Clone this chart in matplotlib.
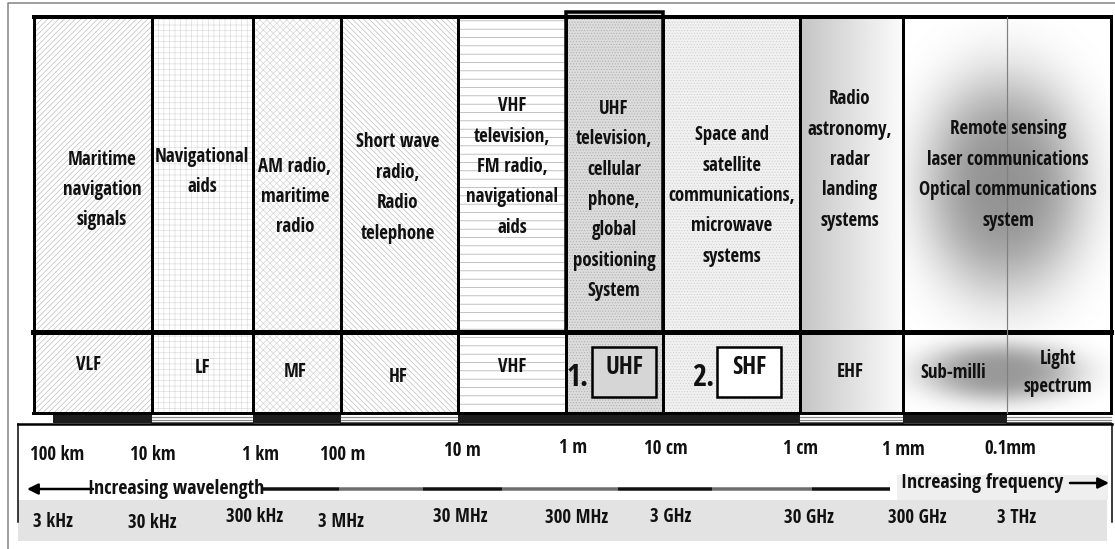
import os
import numpy as np
import matplotlib
matplotlib.use("Agg")
import matplotlib.pyplot as plt
from matplotlib.patches import Rectangle
from matplotlib import font_manager as fm
from matplotlib.textpath import TextPath

# ------------------------------------------------------------------ data
applications = [
    "Maritime\nnavigation\nsignals",
    "Navigational\naids",
    "AM radio,\nmaritime\nradio",
    "Short wave\nradio,\nRadio\ntelephone",
    "VHF\ntelevision,\nFM radio,\nnavigational\naids",
    "UHF\ntelevision,\ncellular\nphone,\nglobal\npositioning\nSystem",
    "Space and\nsatellite\ncommunications,\nmicrowave\nsystems",
    "Radio\nastronomy,\nradar\nlanding\nsystems",
    "Remote sensing\nlaser communications\nOptical communications\nsystem",
]
bands = ["VLF", "LF", "MF", "HF", "VHF", "UHF", "SHF", "EHF", "Sub-milli",
         "Light\nspectrum"]
band_prefix = ["", "", "", "", "", "1.", "2.", "", "", ""]
wavelengths = ["100 km", "10 km", "1 km", "100 m", "10 m", "1 m", "10 cm",
               "1 cm", "1 mm", "0.1mm"]
frequencies = ["3 kHz", "30 kHz", "300 kHz", "3 MHz", "30 MHz", "300 MHz",
               "3 GHz", "30 GHz", "300 GHz", "3 THz"]
left_note = "Increasing wavelength"
right_note = "Increasing frequency"

# ------------------------------------------------------------------ layout (pixels)
W, H = 1115, 549
col_edges = [34, 152, 253, 341, 458, 566, 663, 800, 903, 1007, 1111]
app_x = [102, 202, 295, 398, 512, 614, 732, 850, 1008]
app_y = [190, 172, 197, 188, 167, 200, 196, 160, 175]
band_x = [88, 202, 295, 398, 512, 624, 749, 850, 953, 1058]
band_y = [365, 368, 372, 377, 367, 368, 368, 372, 373, 373]
wl_x = [57, 153, 260, 343, 462, 573, 666, 800, 903, 1010]
wl_y = [455, 455, 455, 455, 451, 448, 449, 449, 450, 449]
fr_x = [53, 152, 255, 341, 460, 577, 671, 809, 917, 1017]
fr_y = [522, 523, 517, 522, 517, 518, 517, 518, 518, 518]
TOP, SPLIT, LOW_BOT = 17, 332, 413


# ------------------------------------------------------------------ font (narrow bold)
def font_metrics(fp):
    w = TextPath((0, 0), "Navigational", prop=fp, size=100).get_extents().width
    h = TextPath((0, 0), "H", prop=fp, size=100).get_extents().height
    return w, h


def pick_font(target=0.168):
    fams = ("liberationsans", "arialnarrow", "arialn", "roboto", "notosans-",
            "opensans", "dejavusans", "lato", "inter")
    best, best_d = None, 1e9
    seen = set()
    for f in fm.fontManager.ttflist:
        base = os.path.basename(f.fname).lower().replace(" ", "").replace("_", "")
        if base in seen:
            continue
        seen.add(base)
        if not base.startswith(fams):
            continue
        if "bold" not in base or "semibold" in base or "extrabold" in base:
            continue
        if any(k in base for k in ("italic", "oblique", "mono", "display", "ui")):
            continue
        try:
            fp = fm.FontProperties(fname=f.fname)
            w, h = font_metrics(fp)
        except Exception:
            continue
        if w <= 0:
            continue
        d = abs(h / w - target)
        if d < best_d:
            best, best_d = fp, d
    if best is None:
        best = fm.FontProperties(family="DejaVu Sans", weight="bold")
    return best


FP = pick_font()
_w, _h = font_metrics(FP)
_s_w = 100 * 92.0 / _w
_s_h = 100 * 15.0 / _h
FS = min(_s_w, 0.5 * (_s_w + _s_h)) * 72 / 100  # points
# line step in pixels for a given linespacing factor
_lp = TextPath((0, 0), "lp", prop=FP, size=FS * 100 / 72).get_extents().height
LS_APP = 32.0 / _lp
LS_BAND = 30.0 / _lp

plt.rcParams["hatch.linewidth"] = 0.45

fig = plt.figure(figsize=(W / 100, H / 100), dpi=100)
ax = fig.add_axes([0, 0, 1, 1])
ax.set_xlim(0, W)
ax.set_ylim(H, 0)
ax.axis("off")


def px(p):  # pixels -> points
    return p * 72 / 100


def txt(x, y, s, size=None, ls=None, **kw):
    fp = FP.copy()
    fp.set_size(size if size else FS)
    ax.text(x, y, s, ha="center", va="center", fontproperties=fp,
            color="#111111", linespacing=ls if ls else LS_APP, zorder=6, **kw)


# outer frame
ax.plot([8, 8, W], [H, 3, 3], color="#808080", lw=px(1.5), zorder=2,
        solid_capstyle="butt")

# ------------------------------------------------------------------ column fills
styles = [
    dict(fc="white", hatch="//////", hc="#b8b8b8"),
    dict(fc="white", hatch="+++", hc="#dadada"),
    dict(fc="white", hatch="xxxxx", hc="#d2d2d2"),
    dict(fc="white", hatch="\\\\\\\\\\\\", hc="#b8b8b8"),
    dict(fc="white", hatch="--", hc="#a0a0a0"),
    dict(fc="#dcdcdc", hatch="......", hc="#b0b0b0"),
    dict(fc="#f1f1f1", hatch="......", hc="#cfcfcf"),
]
for i, st in enumerate(styles):
    x0, x1 = col_edges[i], col_edges[i + 1]
    for y0, y1 in [(TOP, SPLIT), (SPLIT, LOW_BOT)]:
        ax.add_patch(Rectangle((x0, y0), x1 - x0, y1 - y0, facecolor=st["fc"],
                               edgecolor=st["hc"], lw=0, hatch=st["hatch"], zorder=1))
ax.add_patch(Rectangle((566, 12), 97, TOP - 12, facecolor="#dcdcdc", lw=0, zorder=1))

# EHF gradient
grad = np.linspace(0.72, 0.98, 200) ** 0.8
grad = np.tile(grad, (2, 1))
for y0, y1 in [(TOP, SPLIT), (SPLIT, LOW_BOT)]:
    ax.imshow(grad, cmap="gray", vmin=0, vmax=1, extent=(800, 903, y1, y0),
              aspect="auto", interpolation="bilinear", zorder=1)


# soft grey blobs (remote sensing / sub-milli)
def blob(x0, x1, y0, y1, cx, cy, sx, sy, depth, p=1.5):
    xs = np.linspace(x0, x1, 300)
    ys = np.linspace(y0, y1, 300)
    X, Y = np.meshgrid(xs, ys)
    r2 = ((X - cx) / sx) ** 2 + ((Y - cy) / sy) ** 2
    g = 1 - depth * np.exp(-r2 ** p)
    ax.imshow(g, cmap="gray", vmin=0, vmax=1, extent=(x0, x1, y1, y0),
              aspect="auto", interpolation="bilinear", zorder=1)


blob(903, 1111, TOP, SPLIT, 1004, 185, 82, 110, 0.42)
blob(903, 1111, SPLIT, LOW_BOT, 1000, 372, 78, 30, 0.40)

# ------------------------------------------------------------------ borders
LW = px(3)
ax.plot([col_edges[0], col_edges[-1]], [TOP, TOP], color="black", lw=px(4), zorder=3)
ax.plot([col_edges[0] - 1, col_edges[-1]], [SPLIT, SPLIT], color="black", lw=px(5), zorder=3)
ax.plot([col_edges[0] - 1, col_edges[-1]], [LOW_BOT, LOW_BOT], color="black", lw=px(3), zorder=3)
for i, xe in enumerate(col_edges):
    if i == 9:
        ax.plot([xe, xe], [TOP, LOW_BOT], color="#808080", lw=px(1.2), zorder=3)
    else:
        ax.plot([xe, xe], [TOP, LOW_BOT], color="black", lw=LW, zorder=3)
# raised UHF column
ax.plot([566, 566, 663, 663], [SPLIT, 12, 12, SPLIT], color="black", lw=px(3.5),
        zorder=4, solid_joinstyle="miter")

# shadow strip under the band row
dark = [True, False, True, False, True, True, True, False, True, False]
for i in range(10):
    x0 = 53 if i == 0 else col_edges[i]
    x1 = col_edges[i + 1]
    if dark[i]:
        ax.add_patch(Rectangle((x0, 414), x1 - x0, 9, facecolor="#1c1c1c", lw=0, zorder=2))
    else:
        ax.add_patch(Rectangle((x0, 414), x1 - x0, 9, facecolor="white", lw=0, zorder=2))
        for yy in (416.5, 419.5):
            ax.plot([x0, x1], [yy, yy], color="#8a8a8a", lw=px(1.2), zorder=2)
        ax.plot([x0, x1], [422.5, 422.5], color="#222222", lw=px(1.5), zorder=2)

# ------------------------------------------------------------------ texts in columns
for s, x, y in zip(applications, app_x, app_y):
    txt(x, y, s)

for i, (s, x, y) in enumerate(zip(bands, band_x, band_y)):
    if band_prefix[i]:
        fc = "#d6d6d6" if i == 5 else "white"
        ax.add_patch(Rectangle((x - 32, 347), 64, 50, facecolor=fc, edgecolor="black",
                               lw=px(2.5), zorder=5))
        txt(x, y, s, size=FS * 1.3)
        txt(x - 46, 378, band_prefix[i], size=FS * 1.6)
    else:
        txt(x, y, s, ls=LS_BAND)

# ------------------------------------------------------------------ scale box
ax.add_patch(Rectangle((18, 500), 1089, 41, facecolor="#e3e3e3", lw=0, zorder=1))
ax.add_patch(Rectangle((897, 475), 211, 25, facecolor="#efefef", lw=0, zorder=1))
ax.plot([18, 1112], [424, 424], color="black", lw=px(2.5), zorder=3)
ax.plot([18, 18], [424, 522], color="black", lw=px(1.5), zorder=3)
ax.plot([1112, 1112], [424, 522], color="black", lw=px(1.5), zorder=3)

for s, x, y in zip(wavelengths, wl_x, wl_y):
    txt(x, y, s)
for s, x, y in zip(frequencies, fr_x, fr_y):
    txt(x, y, s)

# direction notes and arrows
txt(176, 489, left_note, size=FS * 1.05)
txt(982, 483, right_note, size=FS * 1.05)
ax.annotate("", xy=(27, 489), xytext=(93, 489),
            arrowprops=dict(arrowstyle="-|>", lw=px(2.5), color="black",
                            mutation_scale=16, shrinkA=0, shrinkB=0), zorder=4)
ax.annotate("", xy=(1109, 483), xytext=(1070, 483),
            arrowprops=dict(arrowstyle="-|>", lw=px(2.5), color="black",
                            mutation_scale=16, shrinkA=0, shrinkB=0), zorder=4)
seg = [262, 339, 423, 502, 618, 712, 812, 890]
for k in range(len(seg) - 1):
    c = "#111111" if k % 2 == 0 else "#6e6e6e"
    ax.plot([seg[k], seg[k + 1]], [489, 489], color=c, lw=px(3.5), zorder=3,
            solid_capstyle="butt")

fig.savefig("out.png", dpi=100)
